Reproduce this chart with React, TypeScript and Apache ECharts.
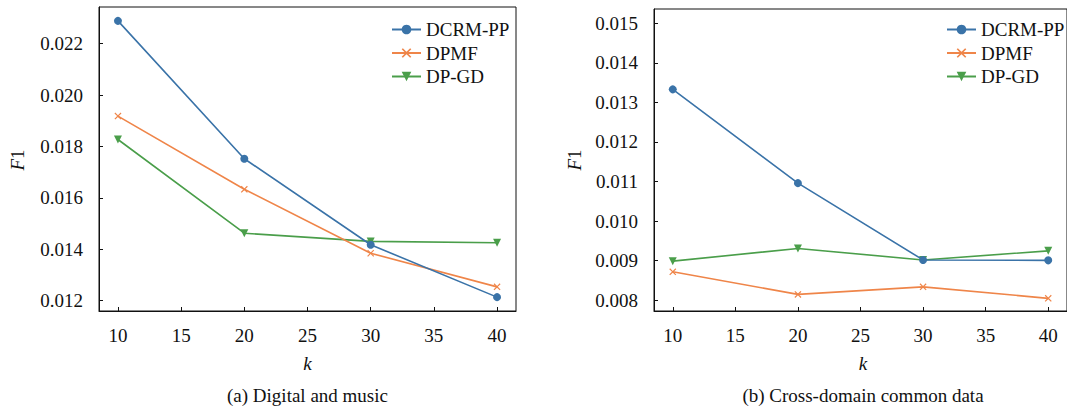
import React, { useEffect, useRef } from "react";
import * as echarts from "echarts";

const kValues = [10, 20, 30, 40];
const xTicks = [10, 15, 20, 25, 30, 35, 40];
const seriesNames = ["DCRM-PP", "DPMF", "DP-GD"];

// (a) Digital and music
const aDCRM = [0.02289, 0.01752, 0.01417, 0.01213];
const aDPMF = [0.01918, 0.01633, 0.01384, 0.01253];
const aDPGD = [0.01827, 0.01462, 0.0143, 0.01425];
const aYTicks = [0.012, 0.014, 0.016, 0.018, 0.02, 0.022];

// (b) Cross-domain common data
const bDCRM = [0.01333, 0.01096, 0.00902, 0.00901];
const bDPMF = [0.00872, 0.00815, 0.00834, 0.00805];
const bDPGD = [0.00899, 0.00931, 0.00902, 0.00925];
const bYTicks = [0.008, 0.009, 0.01, 0.011, 0.012, 0.013, 0.014, 0.015];

const captions = ["(a) Digital and music", "(b) Cross-domain common data"];

const COLORS = ["#3a73a8", "#ef8549", "#4a9e4a"];
const FONT = "Liberation Serif";
const X_SYMBOL =
  "path://M0,1.2 L1.2,0 L5,3.8 L8.8,0 L10,1.2 L6.2,5 L10,8.8 L8.8,10 L5,6.2 L1.2,10 L0,8.8 L3.8,5 Z";

function pairs(vals: number[]) {
  return kValues.map((k, i) => [k, vals[i]]);
}

const serifRich = { s: { fontFamily: FONT, fontSize: 19, color: "#111" } };

export default function App() {
  const ref = useRef<HTMLDivElement>(null);
  useEffect(() => {
    if (!ref.current) return;
    const chart = echarts.init(ref.current, undefined, { renderer: "svg" });
    const grids = [
      { left: 99, top: 7, width: 417, height: 304 },
      { left: 654, top: 9, width: 419, height: 302 },
    ];
    const yRanges = [
      [0.01159, 0.02343],
      [0.00773, 0.01536],
    ];
    const yTicks = [aYTicks, bYTicks];
    const data = [
      [aDCRM, aDPMF, aDPGD],
      [bDCRM, bDPMF, bDPGD],
    ];
    const symbols = ["circle", X_SYMBOL, "triangle"];
    const symbolSizes = [8, 7, 8];
    const symbolRotates = [0, 0, 180];

    const series: any[] = [];
    for (let g = 0; g < 2; g++) {
      for (let s = 0; s < 3; s++) {
        series.push({
          type: "line",
          name: seriesNames[s],
          xAxisIndex: g,
          yAxisIndex: g,
          data: pairs(data[g][s]),
          symbol: symbols[s],
          symbolSize: symbolSizes[s],
          symbolRotate: symbolRotates[s],
          showAllSymbol: true,
          lineStyle: { color: COLORS[s], width: 1.6 },
          itemStyle: { color: COLORS[s] },
          z: 3 - s,
        });
      }
    }

    const legendLefts = [386, 941];
    const captionX = [307.5, 863];
    const f1X = [17.5, 574];
    const kX = [307.5, 863];

    const graphic: any[] = [];
    for (let g = 0; g < 2; g++) {
      graphic.push({
        type: "text",
        x: f1X[g],
        y: 160,
        rotation: Math.PI / 2,
        style: {
          text: "{i|F}1",
          rich: { i: { fontStyle: "italic", fontFamily: FONT, fontSize: 19, fill: "#111" } },
          fontFamily: FONT,
          fontSize: 19,
          fill: "#111",
          align: "center",
          verticalAlign: "middle",
        },
      });
      graphic.push({
        type: "text",
        x: kX[g],
        y: 363,
        style: {
          text: "k",
          fontFamily: FONT,
          fontStyle: "italic",
          fontSize: 19,
          fill: "#111",
          align: "center",
          verticalAlign: "middle",
        },
      });
      graphic.push({
        type: "text",
        x: captionX[g],
        y: 395,
        style: {
          text: captions[g],
          fontFamily: FONT,
          fontSize: 19,
          fill: "#111",
          align: "center",
          verticalAlign: "middle",
        },
      });
    }

    chart.setOption({
      animation: false,
      backgroundColor: "#ffffff",
      textStyle: { fontFamily: FONT, fontSize: 19, color: "#111" },
      grid: grids.map((gr) => ({
        ...gr,
        show: true,
        borderColor: "#111",
        borderWidth: 1,
        backgroundColor: "transparent",
      })),
      legend: legendLefts.map((l) => ({
        data: seriesNames,
        orient: "vertical",
        left: l,
        top: 15,
        itemWidth: 29,
        itemHeight: 12,
        itemGap: 4.5,
        selectedMode: false,
        formatter: (n: string) => "{s|" + n + "}",
        textStyle: { fontFamily: FONT, fontSize: 19, color: "#111", lineHeight: 19, rich: serifRich },
      })),
      xAxis: [0, 1].map((g) => ({
        type: "value",
        gridIndex: g,
        min: 8.5,
        max: 41.5,
        splitLine: { show: false },
        axisLine: { show: true, onZero: false, lineStyle: { color: "#111", width: 1 } },
        axisTick: { show: true, inside: true, length: 4, customValues: xTicks, lineStyle: { color: "#111" } },
        axisLabel: {
          customValues: xTicks,
          margin: 15,
          fontFamily: FONT,
          fontSize: 19,
          color: "#111",
          formatter: (v: number) => "{s|" + String(v) + "}",
          rich: serifRich,
        },
      })),
      yAxis: [0, 1].map((g) => ({
        type: "value",
        gridIndex: g,
        min: yRanges[g][0],
        max: yRanges[g][1],
        splitLine: { show: false },
        axisLine: { show: true, onZero: false, lineStyle: { color: "#111", width: 1 } },
        axisTick: { show: true, inside: true, length: 4, customValues: yTicks[g], lineStyle: { color: "#111" } },
        axisLabel: {
          customValues: yTicks[g],
          margin: 16,
          fontFamily: FONT,
          fontSize: 19,
          color: "#111",
          formatter: (v: number) => "{s|" + v.toFixed(3) + "}",
          rich: serifRich,
        },
      })),
      series,
      graphic,
    });
    return () => chart.dispose();
  }, []);
  return (
    <div
      ref={ref}
      style={{ position: "absolute", left: 0, top: 0, width: 1067, height: 407, background: "#fff" }}
    />
  );
}
